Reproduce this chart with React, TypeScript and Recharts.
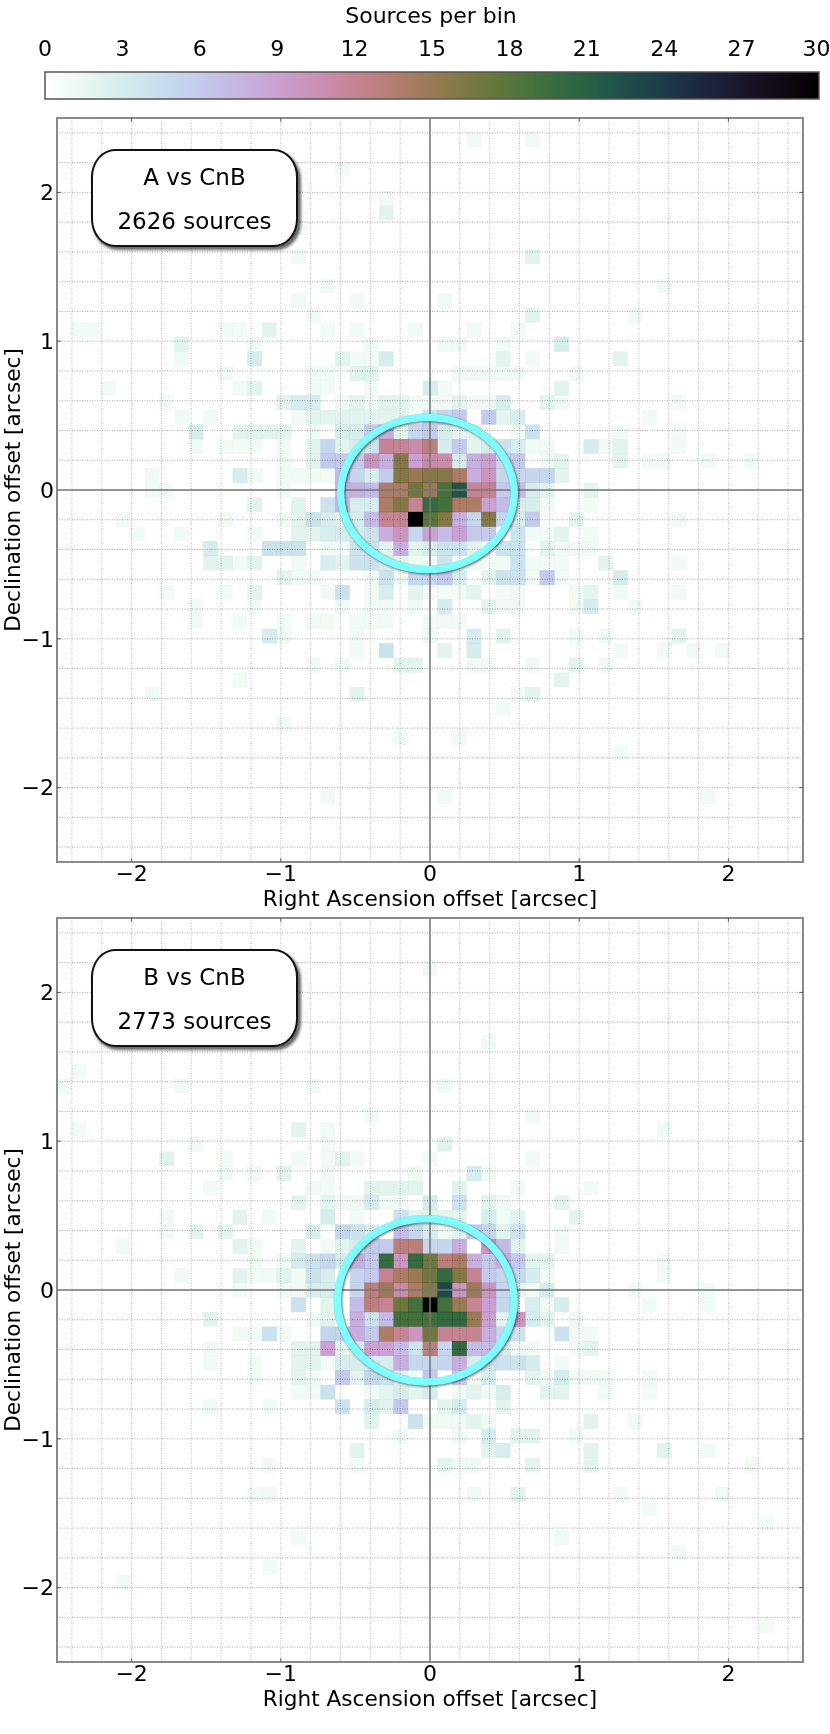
import React from 'react';
import {
  ScatterChart,
  Scatter,
  XAxis,
  YAxis,
  CartesianGrid,
  ReferenceLine,
  ReferenceArea,
} from 'recharts';

// Histogram bin centres in arcsec (51 bins from -2.5 to 2.5), same on both axes
const binCentres = [
  -2.451, -2.353, -2.255, -2.157, -2.059, -1.961, -1.863, -1.765, -1.667, -1.569, -1.471, -1.373, -1.275,
  -1.176, -1.078, -0.98, -0.882, -0.784, -0.686, -0.588, -0.49, -0.392, -0.294, -0.196, -0.098, 0, 0.098,
  0.196, 0.294, 0.392, 0.49, 0.588, 0.686, 0.784, 0.882, 0.98, 1.078, 1.176, 1.275, 1.373, 1.471, 1.569,
  1.667, 1.765, 1.863, 1.961, 2.059, 2.157, 2.255, 2.353, 2.451,
];

// Each row: [row, [col, count, col, count, ...]]. Row -1 is the top bin, col -1 the leftmost bin.
const panelARows: [number, number[]][] = [
  [0, [27, 1, 31, 1]],
  [2, [18, 1]],
  [4, [21, 1]],
  [5, [21, 2]],
  [6, [15, 1]],
  [8, [15, 1, 31, 2]],
  [10, [17, 1, 40, 1]],
  [11, [15, 1, 19, 1, 25, 1]],
  [12, [16, 1, 31, 2, 38, 1]],
  [13, [0, 1, 1, 1, 10, 1, 11, 1, 13, 2, 17, 1, 19, 1, 23, 1, 27, 1, 30, 1]],
  [14, [7, 2, 12, 1, 20, 1, 25, 1, 26, 1, 29, 1, 33, 3]],
  [15, [7, 1, 12, 3, 18, 2, 19, 1, 20, 1, 21, 3, 29, 2, 31, 1, 37, 2]],
  [16, [10, 1, 16, 1, 17, 1, 19, 2, 20, 2, 26, 1, 27, 1, 28, 1, 29, 1, 30, 1, 34, 1]],
  [17, [2, 1, 11, 1, 12, 2, 16, 1, 17, 1, 20, 1, 24, 3, 25, 1, 33, 2]],
  [18, [6, 1, 14, 2, 15, 3, 16, 3, 18, 1, 19, 2, 20, 1, 21, 2, 22, 2, 23, 1, 24, 1, 25, 1, 26, 2, 27, 1, 28, 1, 29, 3, 32, 2, 33, 1, 41, 1]],
  [19, [7, 1, 9, 1, 15, 1, 16, 2, 17, 2, 18, 2, 19, 2, 20, 2, 21, 2, 22, 2, 23, 1, 24, 4, 25, 5, 26, 6, 28, 6, 29, 2, 30, 3, 39, 1]],
  [20, [8, 3, 11, 2, 12, 2, 13, 2, 14, 2, 16, 1, 18, 3, 19, 3, 20, 6, 21, 8, 22, 2, 23, 5, 24, 6, 25, 3, 26, 2, 27, 2, 30, 1, 31, 4, 37, 1, 41, 1]],
  [21, [8, 1, 10, 1, 11, 1, 12, 1, 14, 1, 16, 2, 17, 5, 18, 2, 19, 3, 20, 4, 21, 12, 22, 12, 23, 11, 24, 13, 25, 3, 26, 6, 27, 2, 28, 3, 29, 4, 30, 3, 31, 1, 32, 1, 35, 3, 36, 1, 37, 2, 41, 1]],
  [22, [14, 1, 16, 2, 17, 6, 18, 6, 19, 6, 20, 10, 21, 8, 22, 16, 23, 9, 24, 11, 25, 11, 26, 3, 27, 8, 28, 9, 29, 5, 30, 6, 32, 1, 33, 2, 37, 2, 39, 1, 40, 1, 43, 1, 46, 1]],
  [23, [5, 1, 11, 3, 12, 1, 14, 1, 15, 1, 16, 1, 17, 1, 18, 7, 19, 5, 20, 3, 21, 6, 22, 16, 23, 15, 24, 16, 25, 16, 26, 14, 27, 8, 28, 10, 29, 5, 30, 5, 31, 5, 32, 5, 33, 2]],
  [24, [5, 1, 6, 1, 14, 1, 18, 7, 19, 8, 20, 7, 21, 14, 22, 14, 23, 17, 24, 15, 25, 19, 26, 22, 27, 12, 28, 12, 29, 6, 30, 7, 31, 3, 32, 2, 35, 2]],
  [25, [12, 2, 15, 2, 17, 4, 18, 7, 19, 3, 20, 3, 21, 14, 22, 16, 23, 12, 24, 20, 25, 19, 26, 14, 27, 14, 28, 9, 29, 7, 30, 3, 31, 3, 32, 1, 35, 1]],
  [26, [3, 1, 10, 1, 14, 1, 15, 2, 16, 4, 17, 3, 18, 2, 19, 3, 20, 7, 21, 12, 22, 12, 23, 30, 24, 18, 25, 16, 26, 8, 27, 5, 28, 16, 29, 5, 30, 3, 31, 6, 34, 2, 41, 1]],
  [27, [4, 1, 7, 1, 12, 1, 15, 2, 16, 2, 17, 3, 18, 3, 19, 3, 20, 4, 21, 8, 22, 10, 23, 5, 24, 9, 25, 7, 26, 9, 27, 6, 28, 6, 30, 4, 31, 1, 32, 1, 33, 2, 35, 1]],
  [28, [9, 3, 13, 4, 14, 4, 15, 4, 17, 1, 18, 1, 19, 4, 20, 4, 21, 2, 22, 8, 23, 2, 24, 3, 25, 4, 26, 4, 27, 2, 28, 1, 29, 4, 30, 4, 32, 2, 33, 1, 34, 1, 35, 1]],
  [29, [9, 2, 10, 2, 11, 1, 12, 2, 15, 1, 17, 3, 18, 2, 19, 4, 20, 4, 21, 3, 22, 2, 23, 1, 24, 1, 25, 4, 26, 1, 27, 1, 28, 1, 29, 1, 30, 4, 31, 1, 32, 1, 33, 1, 36, 2, 41, 1]],
  [30, [14, 2, 15, 1, 16, 1, 20, 1, 21, 4, 22, 1, 23, 5, 24, 5, 25, 6, 26, 3, 28, 2, 29, 4, 30, 4, 31, 1, 32, 6, 33, 1, 37, 3]],
  [31, [6, 1, 10, 1, 12, 2, 17, 1, 18, 4, 20, 1, 21, 3, 23, 2, 24, 1, 25, 1, 26, 1, 27, 2, 29, 1, 30, 1, 34, 1, 35, 2, 37, 1, 41, 1]],
  [32, [8, 1, 12, 1, 18, 1, 20, 1, 21, 1, 23, 1, 25, 3, 28, 2, 29, 1, 30, 1, 34, 1, 35, 3, 38, 1]],
  [33, [8, 1, 11, 1, 14, 1, 16, 1, 17, 1, 19, 1, 20, 1, 21, 1, 24, 1, 25, 1, 26, 1]],
  [34, [13, 3, 14, 1, 19, 1, 24, 1, 27, 3, 29, 2, 34, 1, 36, 1, 41, 2]],
  [35, [19, 1, 21, 4, 25, 2, 27, 3, 37, 1, 40, 1, 42, 1, 44, 1]],
  [36, [16, 1, 18, 1, 22, 2, 23, 2, 27, 1, 28, 1, 31, 1, 34, 2, 36, 1]],
  [37, [11, 1, 33, 2]],
  [38, [5, 1, 19, 2, 30, 1, 31, 2]],
  [39, [29, 1]],
  [40, [14, 1]],
  [41, [22, 1, 26, 1]],
  [42, [37, 1]],
  [45, [17, 1, 25, 1, 43, 1]],
];

const panelBRows: [number, number[]][] = [
  [2, [24, 1]],
  [7, [28, 1]],
  [9, [0, 1]],
  [10, [-1, 1, 7, 1, 16, 1, 25, 1]],
  [12, [20, 1, 31, 1]],
  [13, [0, 1, 15, 2, 17, 1, 40, 1]],
  [14, [8, 1, 17, 1, 25, 2]],
  [15, [6, 2, 10, 1, 15, 1, 17, 1, 18, 2, 19, 1, 24, 1, 31, 1]],
  [16, [10, 1, 12, 1, 14, 2, 17, 1, 23, 1, 27, 3, 28, 1]],
  [17, [9, 1, 16, 1, 17, 1, 20, 2, 21, 2, 22, 2, 23, 2, 26, 2, 30, 1, 35, 1]],
  [18, [15, 2, 17, 2, 18, 1, 19, 1, 20, 3, 21, 1, 22, 1, 24, 3, 26, 4, 28, 2, 29, 1, 33, 2]],
  [19, [6, 1, 11, 2, 13, 1, 17, 3, 19, 1, 22, 4, 23, 2, 24, 2, 25, 2, 26, 2, 28, 3, 29, 1, 30, 2, 34, 2]],
  [20, [6, 1, 8, 2, 10, 2, 16, 3, 18, 5, 19, 4, 20, 3, 22, 7, 23, 5, 24, 3, 25, 1, 26, 2, 27, 6, 28, 5, 29, 2, 30, 4, 33, 1]],
  [21, [3, 1, 11, 2, 12, 1, 15, 2, 17, 1, 18, 2, 19, 3, 20, 6, 21, 6, 22, 13, 23, 13, 24, 5, 25, 5, 26, 8, 28, 10, 29, 7, 30, 2, 33, 1]],
  [22, [12, 1, 14, 1, 15, 3, 16, 4, 17, 5, 18, 3, 19, 8, 20, 6, 21, 20, 22, 10, 23, 20, 24, 17, 25, 13, 26, 14, 27, 8, 28, 6, 29, 8, 30, 6, 31, 2, 32, 2, 40, 1]],
  [23, [7, 1, 11, 2, 12, 1, 13, 1, 14, 2, 15, 1, 16, 4, 17, 3, 19, 5, 20, 6, 21, 12, 22, 14, 23, 15, 24, 17, 25, 20, 26, 16, 27, 12, 28, 6, 29, 5, 30, 5, 31, 3, 32, 1, 40, 1]],
  [24, [11, 1, 14, 1, 15, 1, 16, 3, 17, 3, 19, 5, 20, 13, 21, 15, 22, 11, 23, 14, 24, 16, 25, 23, 26, 10, 27, 15, 28, 10, 29, 5, 30, 2, 31, 1, 32, 3, 38, 1, 43, 1]],
  [25, [15, 4, 17, 2, 19, 7, 20, 13, 21, 12, 22, 17, 23, 19, 24, 30, 25, 19, 26, 15, 27, 12, 28, 9, 29, 5, 31, 3, 32, 1, 33, 3, 39, 1, 43, 1]],
  [26, [9, 2, 16, 1, 17, 2, 19, 8, 20, 4, 21, 7, 22, 19, 23, 19, 24, 19, 25, 20, 26, 20, 27, 15, 28, 9, 29, 2, 30, 10, 31, 3, 32, 2, 34, 1]],
  [27, [11, 1, 12, 1, 13, 4, 14, 1, 17, 5, 18, 5, 19, 8, 20, 6, 21, 14, 22, 12, 23, 10, 24, 17, 25, 12, 26, 12, 27, 12, 28, 8, 29, 5, 30, 4, 33, 4, 34, 1, 35, 1]],
  [28, [9, 1, 15, 2, 16, 2, 17, 9, 18, 2, 19, 3, 20, 9, 21, 9, 22, 7, 23, 4, 24, 13, 25, 5, 26, 20, 27, 7, 28, 7, 29, 3, 30, 1, 31, 1, 34, 1, 35, 2]],
  [29, [9, 1, 12, 1, 15, 2, 16, 2, 17, 1, 18, 3, 19, 3, 20, 3, 21, 3, 22, 8, 23, 5, 24, 5, 25, 5, 26, 8, 27, 3, 28, 4, 29, 4, 30, 4, 31, 3, 33, 1]],
  [30, [12, 1, 15, 2, 16, 1, 18, 6, 19, 2, 20, 5, 21, 4, 22, 2, 23, 1, 24, 6, 26, 6, 27, 1, 28, 3, 31, 2, 32, 1, 33, 3, 34, 1, 35, 1, 36, 1, 39, 1]],
  [31, [15, 1, 16, 1, 17, 4, 20, 1, 21, 2, 22, 3, 23, 2, 24, 3, 26, 1, 27, 2, 28, 1, 29, 3, 32, 2, 33, 2, 36, 1, 39, 1]],
  [32, [9, 1, 13, 1, 18, 4, 20, 3, 21, 2, 22, 6, 25, 2, 26, 3, 29, 2]],
  [33, [20, 2, 23, 4, 24, 1, 25, 1, 26, 1, 27, 2, 28, 1, 35, 2, 38, 1]],
  [34, [22, 1, 26, 1, 28, 3, 30, 2, 31, 2, 34, 1]],
  [35, [19, 2, 28, 2, 29, 3, 35, 2, 40, 2, 43, 1]],
  [36, [13, 1, 19, 1, 25, 2, 26, 1, 27, 1, 31, 2, 35, 2, 46, 1]],
  [38, [12, 1, 13, 1, 27, 1, 30, 2, 37, 1, 44, 1]],
  [39, [39, 1]],
  [40, [47, 1]],
  [41, [15, 1, 33, 1]],
  [42, [41, 1]],
  [43, [13, 1]],
  [44, [3, 1]],
  [47, [47, 1]],
];

// Fitted ellipses, arcsec
const panelAEllipse = { x: -0.017, y: -0.024, rx: 0.582, ry: 0.511 };
const panelBEllipse = { x: -0.028, y: -0.07, rx: 0.592, ry: 0.548 };

const gridTicks = [-2.4, -2.2, -2, -1.8, -1.6, -1.4, -1.2, -1, -0.8, -0.6, -0.4, -0.2, 0, 0.2, 0.4, 0.6, 0.8, 1, 1.2, 1.4, 1.6, 1.8, 2, 2.2, 2.4];
const majorTicks = [-2, -1, 1, 2];
const colorbarTicks = [0, 3, 6, 9, 12, 15, 18, 21, 24, 27, 30];
const colorbarLevels = [0, 1, 2, 3, 4, 5, 6, 7, 8, 9, 10, 11, 12, 13, 14, 15, 16, 17, 18, 19, 20, 21, 22, 23, 24, 25, 26, 27, 28, 29, 30];
const verticalZero = [{ x: 0, y: -2.5 }, { x: 0, y: 2.5 }];
const horizontalZero = [{ x: -2.5, y: 0 }, { x: 2.5, y: 0 }];

const PLOT_W = 746;
const PLOT_H = 744;
const PX_X = PLOT_W / 5;
const PX_Y = PLOT_H / 5;
const CELL_W = (5 / 51) * PX_X;
const CELL_H = (5 / 51) * PX_Y;
const FONT = '"DejaVu Sans", sans-serif';

// cubehelix (start 0.5, rot -1.5, hue 0.8), reversed over 0..30 sources
function countColor(count: number) {
  const t = 1 - count / 30;
  const a = (0.8 * t * (1 - t)) / 2;
  const phi = 2 * Math.PI * (0.5 / 3 - 1.5 * t);
  const c = Math.cos(phi);
  const s = Math.sin(phi);
  const r = t + a * (-0.14861 * c + 1.78277 * s);
  const g = t + a * (-0.29227 * c - 0.90649 * s);
  const b = t + a * (1.97294 * c);
  const to255 = (v: number) => Math.round(Math.min(1, Math.max(0, v)) * 255);
  return `rgb(${to255(r)},${to255(g)},${to255(b)})`;
}

function toCells(rows: [number, number[]][]) {
  const cells: { x: number; y: number; count: number }[] = [];
  rows.forEach(([row, pairs]) => {
    for (let i = 0; i < pairs.length; i += 2) {
      cells.push({ x: binCentres[pairs[i] + 1], y: -binCentres[row + 1], count: pairs[i + 1] });
    }
  });
  return cells;
}

const formatTick = (v: number) => (Number.isInteger(v) ? String(v).replace('-', '\u2212') : '');

function renderCell(props: any) {
  const { cx, cy, payload } = props;
  return (
    <rect
      x={cx - CELL_W / 2}
      y={cy - CELL_H / 2}
      width={CELL_W + 0.3}
      height={CELL_H + 0.3}
      fill={countColor(payload.count)}
      style={{ mixBlendMode: 'multiply' }}
    />
  );
}

function renderEllipse(props: any) {
  const { cx, cy, payload } = props;
  return (
    <ellipse
      cx={cx}
      cy={cy}
      rx={payload.rx * PX_X}
      ry={payload.ry * PX_Y}
      fill="none"
      stroke="#7ffcfc"
      strokeWidth={7.4}
      style={{ filter: 'drop-shadow(1px 1.5px 1px rgba(0,0,0,0.6))' }}
    />
  );
}

// Last colorbar label is nudged left so it stays on the page
function renderColorbarTick(props: any) {
  const { x, y, payload } = props;
  return (
    <text x={payload.value === 30 ? x - 2.5 : x} y={y} textAnchor="middle" fontSize={22} fill="#000">
      {payload.value}
    </text>
  );
}

const noMark = () => <g />;

function Panel({ top, rows, ellipse, title, sources }: any) {
  return (
    <div style={{ position: 'absolute', left: 0, top }}>
      <ScatterChart width={830} height={820} margin={{ top: 18, right: 27, bottom: 0, left: 0 }}>
        <CartesianGrid horizontal={false} stroke="#b8b8b8" strokeDasharray="1 1.5" strokeWidth={1} />
        <CartesianGrid vertical={false} stroke="#a8a8a8" strokeDasharray="1 1.5" strokeWidth={1} />
        <XAxis
          type="number"
          dataKey="x"
          domain={[-2.5, 2.5]}
          ticks={gridTicks}
          interval={0}
          tickFormatter={formatTick}
          axisLine={false}
          tickLine={false}
          tickSize={0}
          tickMargin={3}
          height={58}
          tick={{ fontSize: 22, fill: '#000' }}
          label={{ value: 'Right Ascension offset [arcsec]', position: 'insideBottom', offset: 14, fontSize: 21.6, fill: '#000' }}
        />
        <YAxis
          type="number"
          dataKey="y"
          domain={[-2.5, 2.5]}
          ticks={gridTicks}
          interval={0}
          tickFormatter={formatTick}
          axisLine={false}
          tickLine={false}
          tickSize={0}
          tickMargin={3}
          width={57}
          tick={{ fontSize: 22, fill: '#000' }}
          label={{ value: 'Declination offset [arcsec]', angle: -90, position: 'insideLeft', offset: 12, fontSize: 21.6, fill: '#000', style: { textAnchor: 'middle' } }}
        />
        <Scatter data={toCells(rows)} shape={renderCell} isAnimationActive={false} />
        <Scatter data={verticalZero} line={{ stroke: '#777', strokeWidth: 1.5 }} shape={noMark} isAnimationActive={false} />
        <Scatter data={horizontalZero} line={{ stroke: '#777', strokeWidth: 1.5 }} shape={noMark} isAnimationActive={false} />
        <Scatter data={[ellipse]} shape={renderEllipse} isAnimationActive={false} />
        {majorTicks.map((v) => (
          <ReferenceLine key={`b${v}`} segment={[{ x: v, y: -2.5 }, { x: v, y: -2.475 }]} stroke="#555" />
        ))}
        {majorTicks.map((v) => (
          <ReferenceLine key={`t${v}`} segment={[{ x: v, y: 2.475 }, { x: v, y: 2.5 }]} stroke="#555" />
        ))}
        {majorTicks.map((v) => (
          <ReferenceLine key={`l${v}`} segment={[{ x: -2.5, y: v }, { x: -2.475, y: v }]} stroke="#555" />
        ))}
        {majorTicks.map((v) => (
          <ReferenceLine key={`r${v}`} segment={[{ x: 2.475, y: v }, { x: 2.5, y: v }]} stroke="#555" />
        ))}
        <ReferenceArea x1={-2.5} x2={2.5} y1={-2.5} y2={2.5} fill="none" stroke="#8a8a8a" strokeWidth={2} fillOpacity={0} />
      </ScatterChart>
      <div
        style={{
          position: 'absolute',
          left: 91,
          top: 49,
          width: 207,
          height: 98,
          boxSizing: 'border-box',
          border: '2px solid #111',
          borderRadius: '24px 24px 24px 24px / 28px 28px 28px 28px',
          background: '#fff',
          boxShadow: '2.5px 3px 3px rgba(0,0,0,0.6)',
          fontFamily: FONT,
          fontSize: 23,
          textAlign: 'center',
          color: '#000',
        }}
      >
        <div style={{ position: 'absolute', left: 0, right: 0, top: 12, lineHeight: '28px' }}>{title}</div>
        <div style={{ position: 'absolute', left: 0, right: 0, top: 56, lineHeight: '28px' }}>{sources}</div>
      </div>
    </div>
  );
}

function Colorbar() {
  return (
    <div style={{ position: 'absolute', left: 0, top: 0 }}>
      <div
        style={{
          position: 'absolute',
          left: 0,
          width: 862,
          top: 3,
          textAlign: 'center',
          fontFamily: FONT,
          fontSize: 22,
          color: '#000',
        }}
      >
        Sources per bin
      </div>
      <ScatterChart width={830} height={110} margin={{ top: 42, right: 11, bottom: 11, left: 45 }}>
        <defs>
          <linearGradient id="sourcesRamp" x1="0" y1="0" x2="1" y2="0">
            {colorbarLevels.map((v) => (
              <stop key={v} offset={v / 30} stopColor={countColor(v)} />
            ))}
          </linearGradient>
        </defs>
        <XAxis
          type="number"
          dataKey="x"
          orientation="top"
          domain={[0, 30]}
          ticks={colorbarTicks}
          interval={0}
          axisLine={false}
          tickLine={false}
          tickSize={0}
          tickMargin={0}
          height={30}
          tick={(p: any) => renderColorbarTick({ ...p, y: 55.5 })}
        />
        <YAxis type="number" dataKey="y" domain={[0, 1]} hide width={0} />
        <Scatter data={[{ x: 0, y: 0 }]} shape={noMark} isAnimationActive={false} />
        <ReferenceArea x1={0} x2={30} y1={0} y2={1} fill="url(#sourcesRamp)" fillOpacity={1} stroke="#555" strokeWidth={1.5} />
      </ScatterChart>
    </div>
  );
}

export default function App() {
  return (
    <div style={{ position: 'absolute', left: 0, top: 0, width: 830, height: 1734, background: '#fff', fontFamily: FONT }}>
      <Colorbar />
      <Panel top={100} rows={panelARows} ellipse={panelAEllipse} title="A vs CnB" sources="2626 sources" />
      <Panel top={900} rows={panelBRows} ellipse={panelBEllipse} title="B vs CnB" sources="2773 sources" />
    </div>
  );
}
